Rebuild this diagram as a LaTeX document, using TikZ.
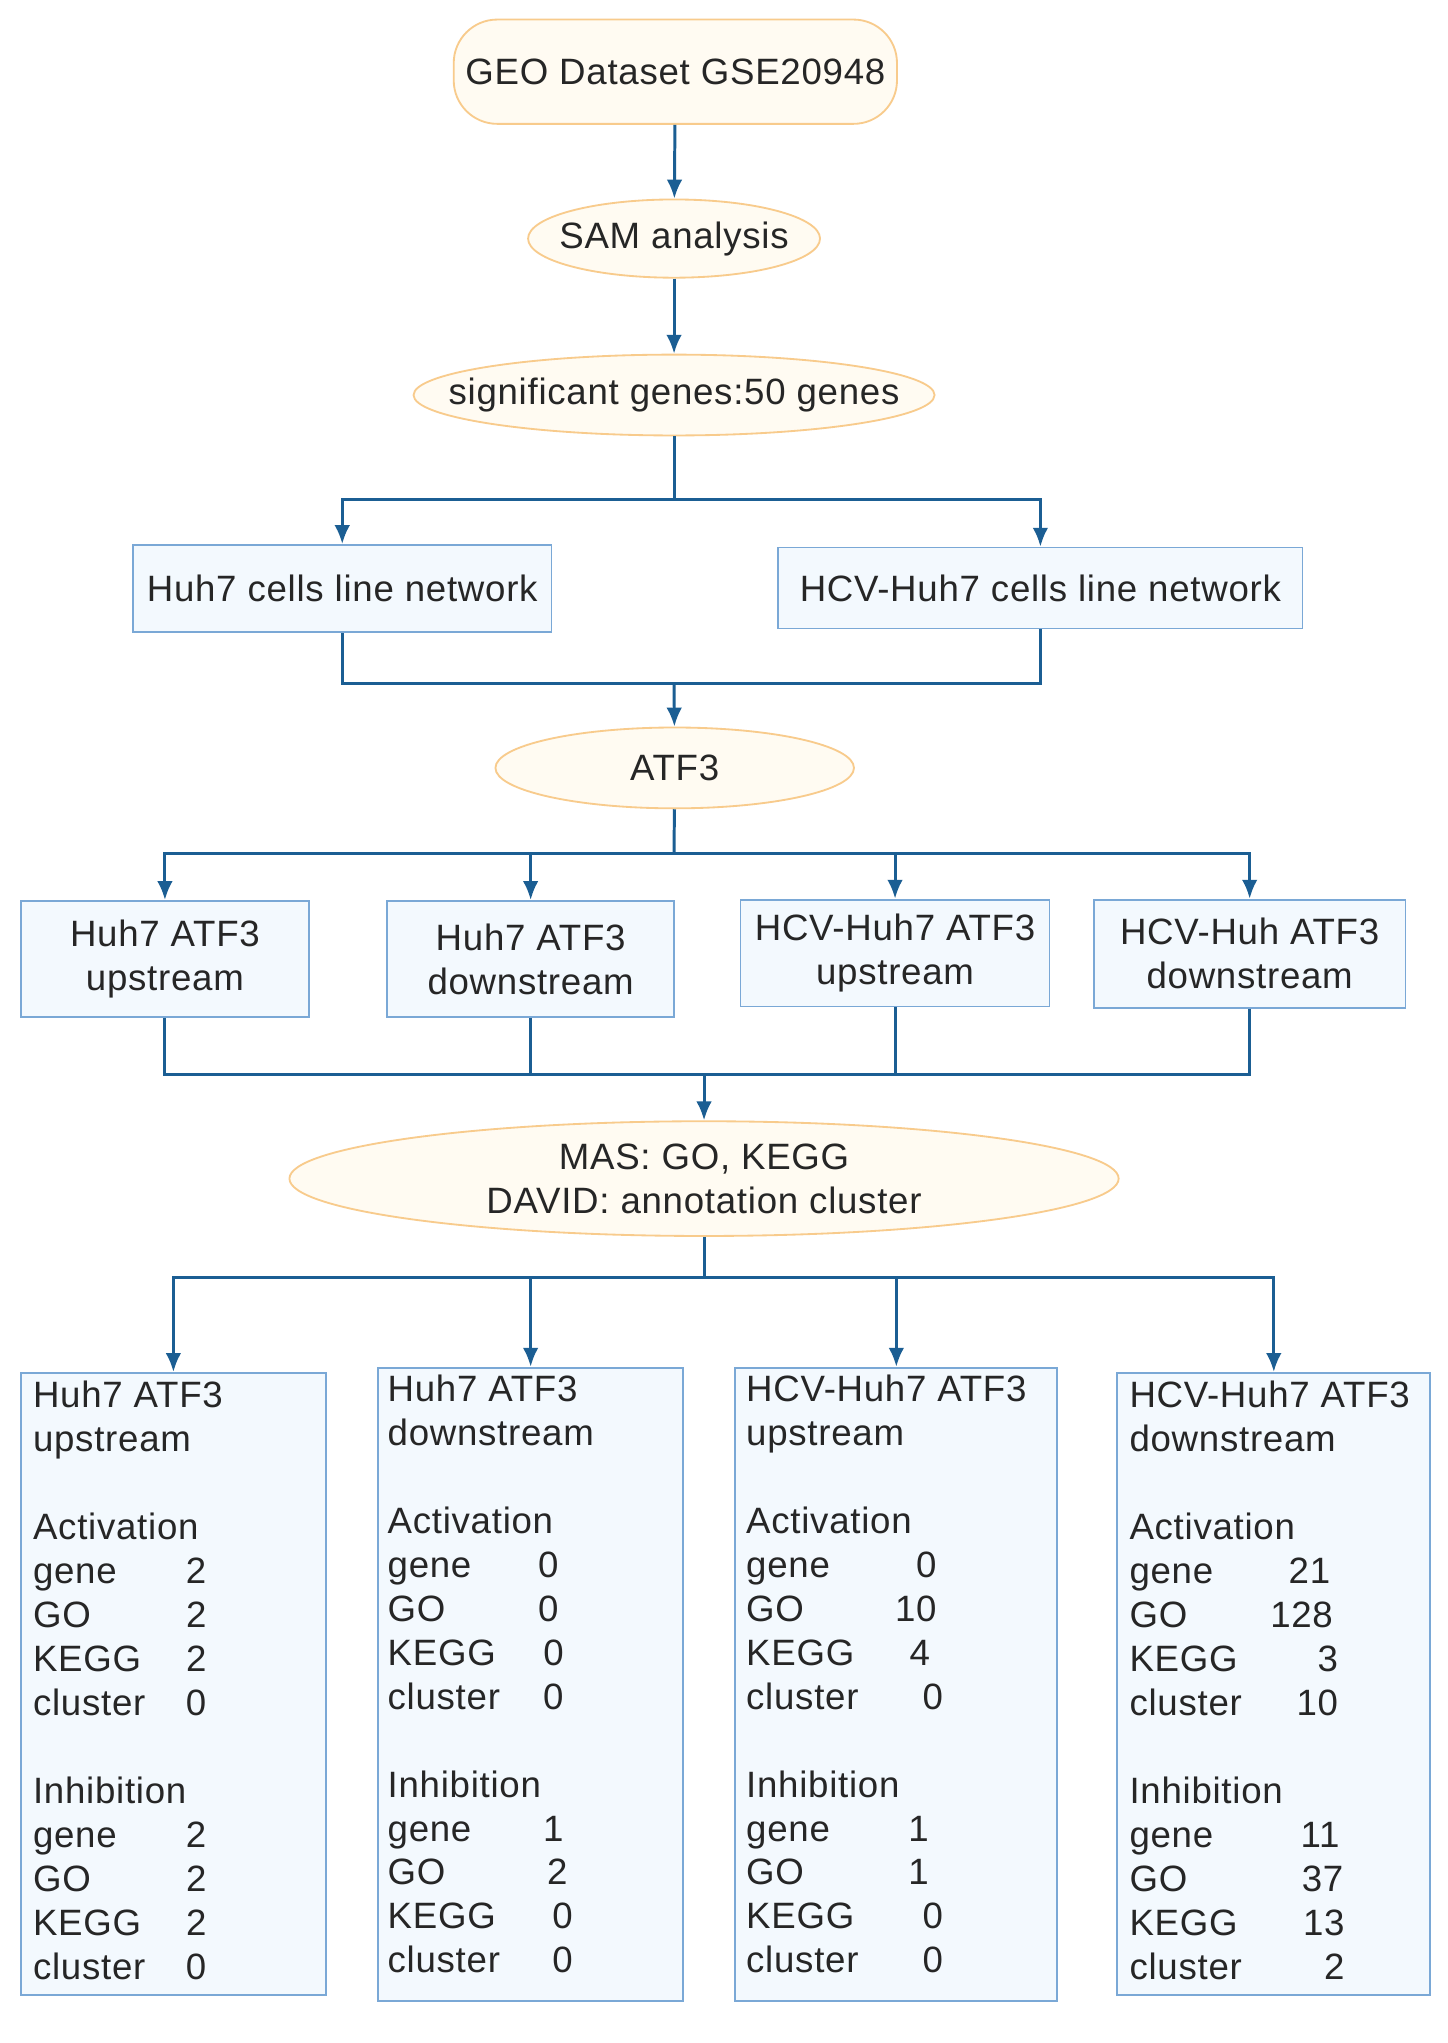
\documentclass[tikz,border=0pt]{standalone}
\usepackage{fontspec}
\setmainfont[LetterSpace=2]{Liberation Sans}
\usetikzlibrary{shapes.geometric,arrows.meta}
\definecolor{linkblue}{HTML}{1B5E93}
\definecolor{boxline}{HTML}{7AA8D6}
\definecolor{boxfill}{HTML}{F3F9FE}
\definecolor{ovalline}{HTML}{F8CB8C}
\definecolor{ovalfill}{HTML}{FFFBF2}
\newcommand{\statrow}[3]{\makebox[#1][l]{#2\hfill#3}}
\begin{document}
\begin{tikzpicture}[x=0.02cm, y=-0.02cm,
		every node/.style={font=\fontsize{16}{19.2}\selectfont, text=black!85},
		oval/.style={ellipse, draw=ovalline, fill=ovalfill, line width=0.8pt, inner sep=0pt},
		netbox/.style={rectangle, draw=boxline, fill=boxfill, line width=0.8pt, inner sep=0pt, align=center},
		link/.style={linkblue, line width=1.3pt},
		>={Latex[length=2.9mm,width=2.4mm]}]
		\useasboundingbox[fill=white] (0,0) rectangle (1110,1567);
		
		\node[oval, rectangle, rounded corners=19pt, minimum width=340*0.02cm, minimum height=80*0.02cm] (geo) at (518,55) {GEO Dataset GSE20948};
		\node[oval, inner xsep=-5pt, minimum width=221*0.02cm, minimum height=60*0.02cm] (sam) at (517,183) {SAM analysis};
		\node[oval, inner xsep=-18pt, minimum width=390*0.02cm, minimum height=62*0.02cm] (sig) at (517,303) {significant genes:50 genes};
		\node[netbox, minimum width=321*0.02cm, minimum height=67*0.02cm] (net1) at (262.5,451.5) {Huh7 cells line network};
		\node[netbox, minimum width=402*0.02cm, minimum height=62*0.02cm] (net2) at (798,451) {HCV-Huh7 cells line network};
		\node[oval, minimum width=275*0.02cm, minimum height=62*0.02cm] (atf) at (517.5,589) {ATF3};
		
		\node[netbox, minimum width=221*0.02cm, minimum height=89*0.02cm] (up1) at (126.5,735.5) {Huh7 ATF3\\upstream};
		\node[netbox, minimum width=220*0.02cm, minimum height=89*0.02cm] (dn1) at (407,735.5) {Huh7 ATF3\\downstream};
		\node[netbox, minimum width=237*0.02cm, minimum height=82*0.02cm] (up2) at (686.5,731) {HCV-Huh7 ATF3\\upstream};
		\node[netbox, minimum width=239*0.02cm, minimum height=83*0.02cm] (dn2) at (958.5,731.5) {HCV-Huh ATF3\\downstream};
		
		\node[oval, align=center, inner xsep=-6pt, minimum width=636*0.02cm, minimum height=88*0.02cm] (mas) at (540,904) {MAS: GO, KEGG\\DAVID: annotation cluster};
		
		\node[netbox, minimum width=234*0.02cm, minimum height=477*0.02cm] (res1) at (133,1291.5) {};
		\node[netbox, minimum width=234*0.02cm, minimum height=486*0.02cm] (res2) at (407,1292) {};
		\node[netbox, minimum width=247*0.02cm, minimum height=486*0.02cm] (res3) at (687.5,1292) {};
		\node[netbox, minimum width=240*0.02cm, minimum height=477*0.02cm] (res4) at (977,1291.5) {};
		
		\node[anchor=north west, align=left, inner sep=0pt] (txt1) at (25,1059) {Huh7 ATF3\\upstream\\[19.2pt]Activation\\
			\statrow{2.66cm}{gene}{2}\\\statrow{2.66cm}{GO}{2}\\\statrow{2.66cm}{KEGG}{2}\\\statrow{2.66cm}{cluster}{0}\\[19.2pt]Inhibition\\
			\statrow{2.66cm}{gene}{2}\\\statrow{2.66cm}{GO}{2}\\\statrow{2.66cm}{KEGG}{2}\\\statrow{2.66cm}{cluster}{0}};
		\node[anchor=north west, align=left, inner sep=0pt] (txt2) at (297,1054) {Huh7 ATF3\\downstream\\[19.2pt]Activation\\
			\statrow{2.62cm}{gene}{0}\\\statrow{2.62cm}{GO}{0}\\\statrow{2.7cm}{KEGG}{0}\\\statrow{2.7cm}{cluster}{0}\\[19.2pt]Inhibition\\
			\statrow{2.7cm}{gene}{1}\\\statrow{2.76cm}{GO}{2}\\\statrow{2.84cm}{KEGG}{0}\\\statrow{2.84cm}{cluster}{0}};
		\node[anchor=north west, align=left, inner sep=0pt] (txt3) at (572,1054) {HCV-Huh7 ATF3\\upstream\\[19.2pt]Activation\\
			\statrow{2.92cm}{gene}{0}\\\statrow{2.92cm}{GO}{10}\\\statrow{2.82cm}{KEGG}{4}\\\statrow{3.02cm}{cluster}{0}\\[19.2pt]Inhibition\\
			\statrow{2.8cm}{gene}{1}\\\statrow{2.8cm}{GO}{1}\\\statrow{3.02cm}{KEGG}{0}\\\statrow{3.02cm}{cluster}{0}};
		\node[anchor=north west, align=left, inner sep=0pt] (txt4) at (866,1059) {HCV-Huh7 ATF3\\downstream\\[19.2pt]Activation\\
			\statrow{3.08cm}{gene}{21}\\\statrow{3.12cm}{GO}{128}\\\statrow{3.2cm}{KEGG}{3}\\\statrow{3.2cm}{cluster}{10}\\[19.2pt]Inhibition\\
			\statrow{3.22cm}{gene}{11}\\\statrow{3.28cm}{GO}{37}\\\statrow{3.3cm}{KEGG}{13}\\\statrow{3.3cm}{cluster}{2}};
		
		\coordinate (split1) at (517,383);
		\coordinate (join1) at (517,524);
		\coordinate (split2) at (517,655);
		\coordinate (join2) at (540,824);
		\coordinate (split3) at (540,980);
		
		\draw[link, ->] (geo) -- (sam);
		\draw[link, ->] (sam) -- (sig);
		\draw[link] (sig) -- (split1);
		\draw[link, ->] (split1) -| (net1);
		\draw[link, ->] (split1) -| (net2);
		\draw[link] (net1) |- (join1) -| (net2);
		\draw[link, ->] (join1) -- (atf);
		\draw[link] (atf) -- (split2);
		\foreach \blk in {up1, dn1, up2, dn2}{
			\draw[link, ->] (split2) -| (\blk);
			\draw[link] (\blk) |- (join2);
		}
		\draw[link, ->] (join2) -- (mas);
		\draw[link] (mas) -- (split3);
		\foreach \blk in {res1, res2, res3, res4}{
			\draw[link, ->] (split3) -| (\blk);
		}
	\end{tikzpicture}
\end{document}
